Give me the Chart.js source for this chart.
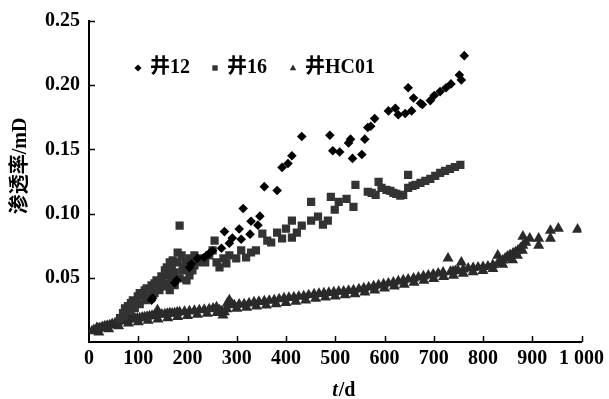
<!DOCTYPE html>
<html>
<head>
<meta charset="utf-8">
<script src="https://cdn.jsdelivr.net/npm/chart.js@4.4.1/dist/chart.umd.min.js"></script>
<style>
  body { margin: 0; background: #fff; }
  #perm { display: block; }
</style>
</head>
<body>
<canvas id="perm" width="609" height="399"></canvas>
<script>
// well 12 (black diamonds)
var well12X = [127, 129, 174, 178, 204, 208, 220, 234, 244, 251, 269, 285, 291, 309, 275, 305, 327, 329, 343, 347,
  313, 356, 382, 392, 404, 412, 432, 489, 495, 509, 527, 531, 535, 554, 560, 566, 572, 580, 608, 622,
  628, 642, 648, 655, 659, 673, 677, 693, 701, 713, 725, 735, 752, 756, 762];
var well12Y = [0.0325, 0.034, 0.046, 0.048, 0.058, 0.061, 0.065, 0.066, 0.069, 0.071, 0.073, 0.077, 0.081, 0.080, 0.086, 0.088, 0.084, 0.094, 0.091, 0.098,
  0.104, 0.121, 0.118, 0.136, 0.139, 0.145, 0.160, 0.161, 0.149, 0.148, 0.155, 0.158, 0.143, 0.146, 0.158, 0.167, 0.168, 0.174, 0.180, 0.182,
  0.177, 0.178, 0.198, 0.180, 0.190, 0.186, 0.185, 0.188, 0.192, 0.195, 0.198, 0.201, 0.208, 0.204, 0.223];

// well 16 (grey squares)
var well16X = [63, 69, 73, 79, 85, 89, 95, 99, 103, 109, 113, 117, 123, 127, 133, 137, 143, 147, 154, 158,
  160, 164, 168, 170, 174, 180, 184, 188, 194, 198, 204, 210, 214, 220, 224, 230, 236, 244, 251, 255,
  259, 265, 273, 279, 285, 299, 309, 319, 329, 339, 352, 362, 370, 382, 392, 400, 412, 412, 422, 432,
  451, 451, 465, 475, 485, 491, 499, 507, 523, 537, 541, 566, 574, 582, 588, 594, 604, 612, 618, 624,
  632, 638, 648, 648, 657, 663, 673, 683, 693, 703, 713, 723, 733, 743, 754,
  71, 83, 93, 103, 115, 123, 133, 143, 150, 158, 164, 174, 184, 190, 196, 204, 214, 180, 168];
var well16Y = [0.0186, 0.0225, 0.0263, 0.0279, 0.0302, 0.0325, 0.0310, 0.0356, 0.0380, 0.0364, 0.0403, 0.0418, 0.0387, 0.0442, 0.0457, 0.0480, 0.0465, 0.0511, 0.0558, 0.0581,
  0.0519, 0.0620, 0.0496, 0.0635, 0.0542, 0.0697, 0.0906, 0.0674, 0.0573, 0.0480, 0.0519, 0.0558, 0.0596, 0.0620, 0.0651, 0.0635, 0.0620, 0.0674, 0.0713, 0.0790,
  0.0620, 0.0581, 0.0651, 0.0612, 0.0674, 0.0651, 0.0713, 0.0658, 0.0697, 0.0713, 0.0844, 0.0790, 0.0775, 0.0852, 0.0806, 0.0883, 0.0945, 0.0813, 0.0852, 0.0906,
  0.0945, 0.1092, 0.0976, 0.0914, 0.0945, 0.1131, 0.1030, 0.1092, 0.1115, 0.1053, 0.1224, 0.1170, 0.1162, 0.1146, 0.1247, 0.1201, 0.1185, 0.1177, 0.1162, 0.1154,
  0.1139, 0.1146, 0.1201, 0.1301, 0.1216, 0.1224, 0.1239, 0.1255, 0.1270, 0.1294, 0.1317, 0.1332, 0.1348, 0.1363, 0.1379,
  0.0201, 0.0240, 0.0263, 0.0294, 0.0325, 0.0349, 0.0380, 0.0403, 0.0434, 0.0457, 0.0403, 0.0442, 0.0496, 0.0558, 0.0620, 0.0651, 0.0674, 0.0620, 0.0573];

// well HC01 (grey triangles)
var hc01X = [6, 10, 16, 18, 22, 27, 32, 37, 42, 47, 53, 58, 63, 68, 73, 77, 80, 83, 88, 93,
  98, 103, 108, 113, 118, 123, 128, 133, 139, 143, 148, 154, 159, 164, 169, 174, 179, 184, 194, 204,
  214, 224, 234, 244, 252, 259, 265, 270, 275, 281, 285, 290, 295, 305, 315, 325, 335, 345, 356, 366,
  376, 386, 396, 406, 416, 426, 436, 446, 457, 467, 477, 487, 497, 507, 517, 527, 537, 548, 558, 568,
  578, 588, 598, 608, 618, 628, 638, 648, 659, 669, 679, 689, 699, 709, 719, 729, 734, 739, 744, 749,
  756, 760, 770, 780, 790, 800, 810, 820, 830, 830, 835, 840, 845, 850, 855, 861, 866, 871, 876, 881,
  881, 887, 895, 913, 913, 937, 937, 953, 992,
  20, 40, 60, 80, 100, 120, 140, 160, 180, 200, 220, 240, 260, 272, 280, 300, 320, 340, 360, 380,
  400, 420, 440, 460, 480, 500, 520, 540, 560, 580, 600, 620, 640, 660, 680, 700, 720, 740, 760, 780,
  800, 820, 840, 860, 870, 880];
var hc01Y = [0.0085, 0.0095, 0.0110, 0.0105, 0.0109, 0.0117, 0.0124, 0.0128, 0.0132, 0.0140, 0.0147, 0.0155, 0.0163, 0.0166, 0.0171, 0.0209, 0.0175, 0.0178, 0.0182, 0.0186,
  0.0183, 0.0186, 0.0192, 0.0194, 0.0198, 0.0202, 0.0205, 0.0209, 0.0248, 0.0217, 0.0214, 0.0217, 0.0221, 0.0225, 0.0222, 0.0225, 0.0230, 0.0233, 0.0237, 0.0240,
  0.0244, 0.0248, 0.0252, 0.0256, 0.0262, 0.0271, 0.0248, 0.0240, 0.0233, 0.0302, 0.0326, 0.0295, 0.0287, 0.0292, 0.0295, 0.0302, 0.0310, 0.0314, 0.0318, 0.0322,
  0.0326, 0.0334, 0.0341, 0.0345, 0.0349, 0.0353, 0.0357, 0.0365, 0.0372, 0.0376, 0.0380, 0.0384, 0.0388, 0.0392, 0.0395, 0.0399, 0.0403, 0.0411, 0.0419, 0.0426,
  0.0434, 0.0442, 0.0450, 0.0457, 0.0465, 0.0473, 0.0481, 0.0488, 0.0496, 0.0504, 0.0512, 0.0519, 0.0527, 0.0535, 0.0543, 0.0651, 0.0547, 0.0550, 0.0554, 0.0558,
  0.0620, 0.0566, 0.0574, 0.0578, 0.0581, 0.0585, 0.0589, 0.0600, 0.0612, 0.0674, 0.0624, 0.0636, 0.0651, 0.0667, 0.0678, 0.0690, 0.0700, 0.0713, 0.0730, 0.0752,
  0.0822, 0.0775, 0.0806, 0.0806, 0.0752, 0.0868, 0.0806, 0.0884, 0.0876,
  0.0075, 0.0100, 0.0125, 0.0145, 0.0155, 0.0167, 0.0177, 0.0187, 0.0197, 0.0205, 0.0213, 0.0221, 0.0227, 0.0207, 0.0257, 0.0261, 0.0268, 0.0278, 0.0285, 0.0295,
  0.0305, 0.0315, 0.0325, 0.0338, 0.0348, 0.0356, 0.0365, 0.0373, 0.0388, 0.0403, 0.0418, 0.0433, 0.0448, 0.0463, 0.0478, 0.0493, 0.0508, 0.0518, 0.0533, 0.0545,
  0.0555, 0.0571, 0.0603, 0.0638, 0.0673, 0.0713];

var seriesNames = ['井12', '井16', '井HC01'];
var xTicks = [0, 100, 200, 300, 400, 500, 600, 700, 800, 900, 1000];
var yTicks = [0.05, 0.10, 0.15, 0.20, 0.25];

function pts(xs, ys) {
  return xs.map(function(x, i) { return {x: x, y: ys[i]}; });
}

var tickFont = {family: '"Liberation Serif", "Times New Roman", serif', size: 20, weight: 'bold'};

function marker(ctx, style, x, y, r) {
  ctx.beginPath();
  if (style === 'rectRot') {
    ctx.moveTo(x, y - r); ctx.lineTo(x + r, y); ctx.lineTo(x, y + r); ctx.lineTo(x - r, y);
  } else if (style === 'rect') {
    ctx.rect(x - r * 0.75, y - r * 0.75, r * 1.5, r * 1.5);
  } else {
    ctx.moveTo(x, y - r); ctx.lineTo(x + r * 0.9, y + r * 0.65); ctx.lineTo(x - r * 0.9, y + r * 0.65);
  }
  ctx.closePath();
  ctx.fill();
}

var decorations = {
  id: 'decorations',
  afterDraw: function(chart) {
    var ctx = chart.ctx;
    var xs = chart.scales.x, ys = chart.scales.y;
    var area = chart.chartArea;
    ctx.save();
    // ticks pointing into the plot
    ctx.strokeStyle = '#000';
    ctx.lineWidth = 1.5;
    ctx.beginPath();
    xs.ticks.forEach(function(t) {
      if (t.value === 0) return;
      var px = Math.round(xs.getPixelForValue(t.value)) + 0.5;
      ctx.moveTo(px, area.bottom);
      ctx.lineTo(px, area.bottom - 6);
    });
    ys.ticks.forEach(function(t) {
      if (t.value === 0) return;
      var py = Math.round(ys.getPixelForValue(t.value)) + 0.5;
      ctx.moveTo(area.left, py);
      ctx.lineTo(area.left + 6, py);
    });
    ctx.stroke();

    // legend inside the plot
    ctx.fillStyle = '#000';
    ctx.textBaseline = 'middle';
    ctx.textAlign = 'left';
    ctx.font = 'bold 20px "Liberation Serif", "Noto Sans CJK SC", serif';
    var ly = area.top + 47;
    var lx = [area.left + 49, area.left + 126, area.left + 204];
    chart.data.datasets.forEach(function(ds, i) {
      ctx.fillStyle = ds.backgroundColor;
      marker(ctx, ds.pointStyle, lx[i], ly, 3.6);
      ctx.fillStyle = '#000';
      ctx.fillText(ds.label, lx[i] + 12, ly);
    });

    // x title: italic t, upright /d
    var cx = (area.left + area.right) / 2 + 8;
    var ty = 391;
    ctx.font = 'italic bold 20px "Liberation Serif", serif';
    var w1 = ctx.measureText('t').width;
    ctx.font = 'bold 20px "Liberation Serif", serif';
    var w2 = ctx.measureText('/d').width;
    var sx = cx - (w1 + w2) / 2;
    ctx.font = 'italic bold 20px "Liberation Serif", serif';
    ctx.fillText('t', sx, ty);
    ctx.font = 'bold 20px "Liberation Serif", serif';
    ctx.fillText('/d', sx + w1 + 1, ty);

    // y title
    ctx.translate(21, 166);
    ctx.rotate(-Math.PI / 2);
    ctx.textAlign = 'center';
    ctx.font = 'bold 20px "Liberation Serif", "Noto Sans CJK SC", serif';
    ctx.fillText('渗透率/mD', 0, 0);
    ctx.restore();
  }
};

var ctx = document.getElementById('perm');
var chart = new Chart(ctx, {
  type: 'scatter',
  data: {
    datasets: [
      {
        label: seriesNames[0],
        data: pts(well12X, well12Y),
        pointStyle: 'rectRot',
        pointRadius: 4.8,
        backgroundColor: '#000',
        borderWidth: 0
      },
      {
        label: seriesNames[1],
        data: pts(well16X, well16Y),
        pointStyle: 'rect',
        pointRadius: 5.8,
        backgroundColor: '#333',
        borderWidth: 0
      },
      {
        label: seriesNames[2],
        data: pts(hc01X, hc01Y),
        pointStyle: 'triangle',
        pointRadius: 6.4,
        backgroundColor: '#2a2a2a',
        borderWidth: 0
      }
    ]
  },
  options: {
    responsive: false,
    animation: false,
    layout: { padding: { top: 19, right: 25, left: 0, bottom: 0 } },
    plugins: {
      legend: { display: false },
      tooltip: { enabled: false }
    },
    scales: {
      x: {
        type: 'linear',
        min: 0,
        max: 1000,
        afterBuildTicks: function(s) { s.ticks = xTicks.map(function(v) { return {value: v}; }); },
        ticks: {
          color: '#000',
          font: tickFont,
          padding: 5,
          maxRotation: 0,
          callback: function(v) { return v === 1000 ? '1 000' : String(v); }
        },
        grid: { display: false, drawTicks: false },
        border: { color: '#000', width: 2 },
        afterFit: function(s) { s.height = 57; }
      },
      y: {
        min: 0,
        max: 0.25,
        afterBuildTicks: function(s) { s.ticks = [0].concat(yTicks).map(function(v) { return {value: v}; }); },
        ticks: {
          color: '#000',
          font: tickFont,
          padding: 9,
          callback: function(v) { return v === 0 ? '' : v.toFixed(2); }
        },
        grid: { display: false, drawTicks: false },
        border: { color: '#000', width: 2 },
        afterFit: function(s) { s.width = 89; }
      }
    }
  },
  plugins: [decorations]
});
</script>
</body>
</html>
